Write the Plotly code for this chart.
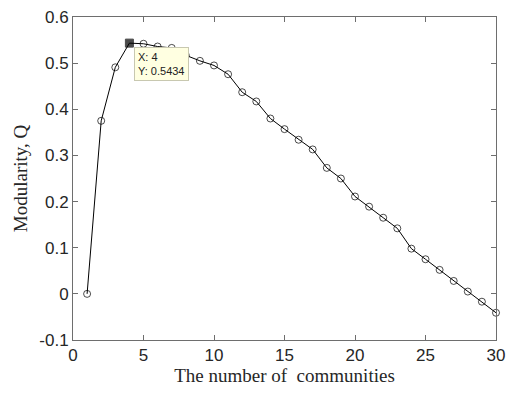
import plotly.graph_objects as go

communities = list(range(1, 31))
modularity = [0.000, 0.375, 0.491, 0.5434, 0.542, 0.536, 0.533, 0.517, 0.505, 0.495,
              0.476, 0.437, 0.417, 0.380, 0.357, 0.334, 0.313, 0.273, 0.250, 0.211,
              0.189, 0.165, 0.142, 0.098, 0.075, 0.052, 0.028, 0.005, -0.017, -0.041]
highlight_index = 3

x_ticks = [0, 5, 10, 15, 20, 25, 30]
x_tick_labels = ["0", "5", "10", "15", "20", "25", "30"]
y_ticks = [-0.1, 0, 0.1, 0.2, 0.3, 0.4, 0.5, 0.6]
y_tick_labels = ["-0.1", "0", "0.1", "0.2", "0.3", "0.4", "0.5", "0.6"]

symbols = ["square" if i == highlight_index else "circle-open" for i in range(len(communities))]
sizes = [8 if i == highlight_index else 7 for i in range(len(communities))]

fig = go.Figure()
fig.add_trace(go.Scatter(
    x=communities, y=modularity, mode="lines+markers",
    line=dict(color="black", width=1),
    marker=dict(symbol=symbols, size=sizes, color="black", line=dict(color="black", width=1)),
    showlegend=False, hoverinfo="skip", cliponaxis=False,
))

hx = communities[highlight_index]
hy = modularity[highlight_index]
fig.add_annotation(
    x=hx, y=hy, xref="x", yref="y",
    text=f"X: {hx}<br>Y: {hy}",
    showarrow=False, xanchor="left", yanchor="top", xshift=5, yshift=-4,
    align="left", bgcolor="#FFFFE1", bordercolor="#C8C8B0", borderwidth=1, borderpad=3,
    font=dict(family="Liberation Sans, Arial, sans-serif", size=11, color="#222222"),
)

axis_common = dict(
    showgrid=False, zeroline=False, showline=True, linecolor="#6E6E6E", linewidth=1,
    mirror="ticks", ticks="inside", ticklen=5, tickcolor="#6E6E6E", automargin=False,
    tickfont=dict(family="Liberation Sans, Arial, sans-serif", size=17, color="#262626"),
)

fig.update_layout(
    width=507, height=394,
    margin=dict(l=73, r=11, t=17, b=54),
    plot_bgcolor="white", paper_bgcolor="white",
    hovermode=False,
    xaxis=dict(range=[0, 30], tickvals=x_ticks, ticktext=x_tick_labels,
               title=dict(text="The number of  communities", standoff=0,
                          font=dict(family="Liberation Serif, Times New Roman, serif", size=19, color="#262626")),
               **axis_common),
    yaxis=dict(range=[-0.1, 0.6], tickvals=y_ticks, ticktext=y_tick_labels,
               title=dict(text="Modularity, Q", standoff=6,
                          font=dict(family="Liberation Serif, Times New Roman, serif", size=19, color="#262626")),
               **axis_common),
)

fig.write_html("out.html", config={"displayModeBar": False})

# remove the default page margin so the figure sits at the window's top-left corner
with open("out.html", "r", encoding="utf-8") as f:
    html = f.read()
html = html.replace("<head>", "<head><style>html,body{margin:0;padding:0;overflow:hidden;}</style>", 1)
with open("out.html", "w", encoding="utf-8") as f:
    f.write(html)
